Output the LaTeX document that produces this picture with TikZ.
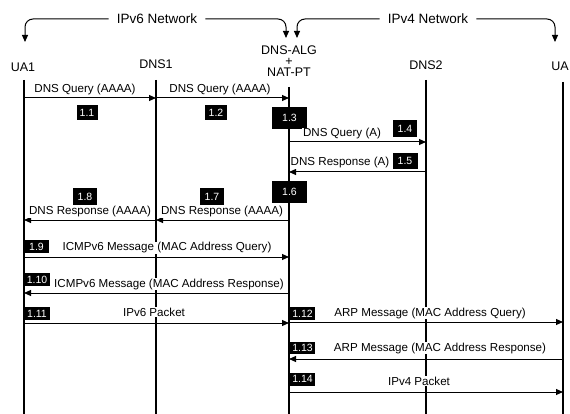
\documentclass[tikz,border=0pt]{standalone}
\usepackage{fontspec}
\setmainfont{Liberation Sans}
\usetikzlibrary{arrows.meta}
\tikzset{
  lifeline/.style={line width=1.3pt},
  msg/.style={line width=1pt,-{Triangle[length=7pt,width=6pt]}},
  netarrow/.style={line width=1pt,rounded corners=8pt,-{Triangle[length=7pt,width=6pt]}},
  head/.style={font=\fontsize{12.5}{13}\selectfont, inner sep=0pt},
  lbl/.style={font=\fontsize{11.6}{13}\selectfont, fill=white, inner sep=1pt},
  netlbl/.style={font=\fontsize{13.5}{15}\selectfont, inner sep=0pt},
  numbox/.style={fill=black, text=white, font=\fontsize{10.5}{12}\selectfont, inner sep=0pt, minimum width=25pt, minimum height=15pt},
  numboxL/.style={numbox, minimum width=35pt, minimum height=22pt}
}
\begin{document}
\begin{tikzpicture}[x=1pt,y=-1pt]
\useasboundingbox (0,0) rectangle (570,414);
% headers
\node[head] (ua1) at (23,67) {UA1};
\node[head] (dns1) at (156,64) {DNS1};
\node[head, align=center, font=\fontsize{12.5}{11}\selectfont] (alg) at (289,61) {DNS-ALG\\+\\NAT-PT};
\node[head] (dns2) at (426,65) {DNS2};
\node[head] (ua2) at (560,66) {UA};
% lifelines
\coordinate (ua1t) at (24,80);   \coordinate (ua1b) at (24,414);
\coordinate (dns1t) at (156,80); \coordinate (dns1b) at (156,414);
\coordinate (algt) at (289,87);  \coordinate (algb) at (289,414);
\coordinate (dns2t) at (426,80); \coordinate (dns2b) at (426,414);
\coordinate (ua2t) at (563,82);  \coordinate (ua2b) at (563,414);
\draw[lifeline] (ua1t) -- (ua1b);
\draw[lifeline] (dns1t) -- (dns1b);
\draw[lifeline] (algt) -- (algb);
\draw[lifeline] (dns2t) -- (dns2b);
\draw[lifeline] (ua2t) -- (ua2b);
% network labels
\node[netlbl] (v6) at (157,19) {IPv6 Network};
\node[netlbl] (v4) at (428,19) {IPv4 Network};
\coordinate (v6l) at (25,42); \coordinate (v6r) at (286,38);
\coordinate (v4l) at (297,38); \coordinate (v4r) at (555,42);
\draw[netarrow] ([xshift=-8pt]v6.west) -- (v6l |- v6.west) -- (v6l);
\draw[netarrow] ([xshift=8pt]v6.east) -- (v6r |- v6.east) -- (v6r);
\draw[netarrow] ([xshift=-8pt]v4.west) -- (v4l |- v4.west) -- (v4l);
\draw[netarrow] ([xshift=8pt]v4.east) -- (v4r |- v4.east) -- (v4r);
% 1.1, 1.2
\draw[msg] (ua1t |- 0,98) -- (dns1t |- 0,98);
\node[lbl] (l11) at (85,90) {DNS Query (AAAA)};
\node[numbox,minimum width=21pt] (n11) at (87,113) {1.1};
\draw[msg] (dns1t |- 0,98) -- (algt |- 0,98);
\node[lbl] (l12) at (220,90) {DNS Query (AAAA)};
\node[numbox,minimum width=22pt] (n12) at (216,113) {1.2};
% 1.3
\node[numboxL] (n13) at (289.5,118) {1.3};
% 1.4
\draw[msg] (algt |- 0,142) -- (dns2t |- 0,142);
\node[lbl] (l14) at (342,134) {DNS Query (A)};
\node[numbox,minimum width=24pt,minimum height=17pt] (n14) at (405,129) {1.4};
% 1.5
\draw[msg] (dns2t |- 0,172) -- (algt |- 0,172);
\node[lbl] (l15) at (340,163) {DNS Response (A)};
\node[numbox,minimum height=16pt] (n15) at (405,161) {1.5};
% 1.6
\node[numboxL] (n16) at (289.5,192) {1.6};
% 1.7, 1.8
\draw[msg] (algt |- 0,220) -- (dns1t |- 0,220);
\node[lbl] (l17) at (222,212) {DNS Response (AAAA)};
\node[numbox,minimum width=24pt,minimum height=17pt] (n17) at (212,197) {1.7};
\draw[msg] (dns1t |- 0,220) -- (ua1t |- 0,220);
\node[lbl] (l18) at (90,212) {DNS Response (AAAA)};
\node[numbox,minimum width=24pt,minimum height=17pt] (n18) at (85,197) {1.8};
% 1.9
\draw[msg] (ua1t |- 0,257) -- (algt |- 0,257);
\node[lbl] (l19) at (167,248) {ICMPv6 Message (MAC Address Query)};
\node[numbox,minimum height=13pt] (n19) at (36.5,246.5) {1.9};
% 1.10
\draw[msg] (algt |- 0,293) -- (ua1t |- 0,293);
\node[lbl] (l110) at (169,284) {ICMPv6 Message (MAC Address Response)};
\node[numbox,minimum width=26pt,minimum height=13pt] (n110) at (37,279.5) {1.10};
% 1.11
\draw[msg] (ua1t |- 0,323) -- (algt |- 0,323);
\node[lbl] (l111) at (154,312) {IPv6 Packet};
\node[numbox,minimum width=26pt,minimum height=13pt] (n111) at (37,313.5) {1.11};
% 1.12
\draw[msg] (algt |- 0,322) -- (ua2t |- 0,322);
\node[lbl] (l112) at (430,313) {ARP Message (MAC Address Query)};
\node[numbox,minimum height=13pt] (n112) at (302.5,313.5) {1.12};
% 1.13
\draw[msg] (ua2t |- 0,359) -- (algt |- 0,359);
\node[lbl] (l113) at (440,348) {ARP Message (MAC Address Response)};
\node[numbox,minimum height=12pt] (n113) at (302.5,347.5) {1.13};
% 1.14
\draw[msg] (algt |- 0,392) -- (ua2t |- 0,392);
\node[lbl] (l114) at (419,381) {IPv4 Packet};
\node[numbox,minimum height=13pt] (n114) at (302.5,379) {1.14};
\end{tikzpicture}
\end{document}
